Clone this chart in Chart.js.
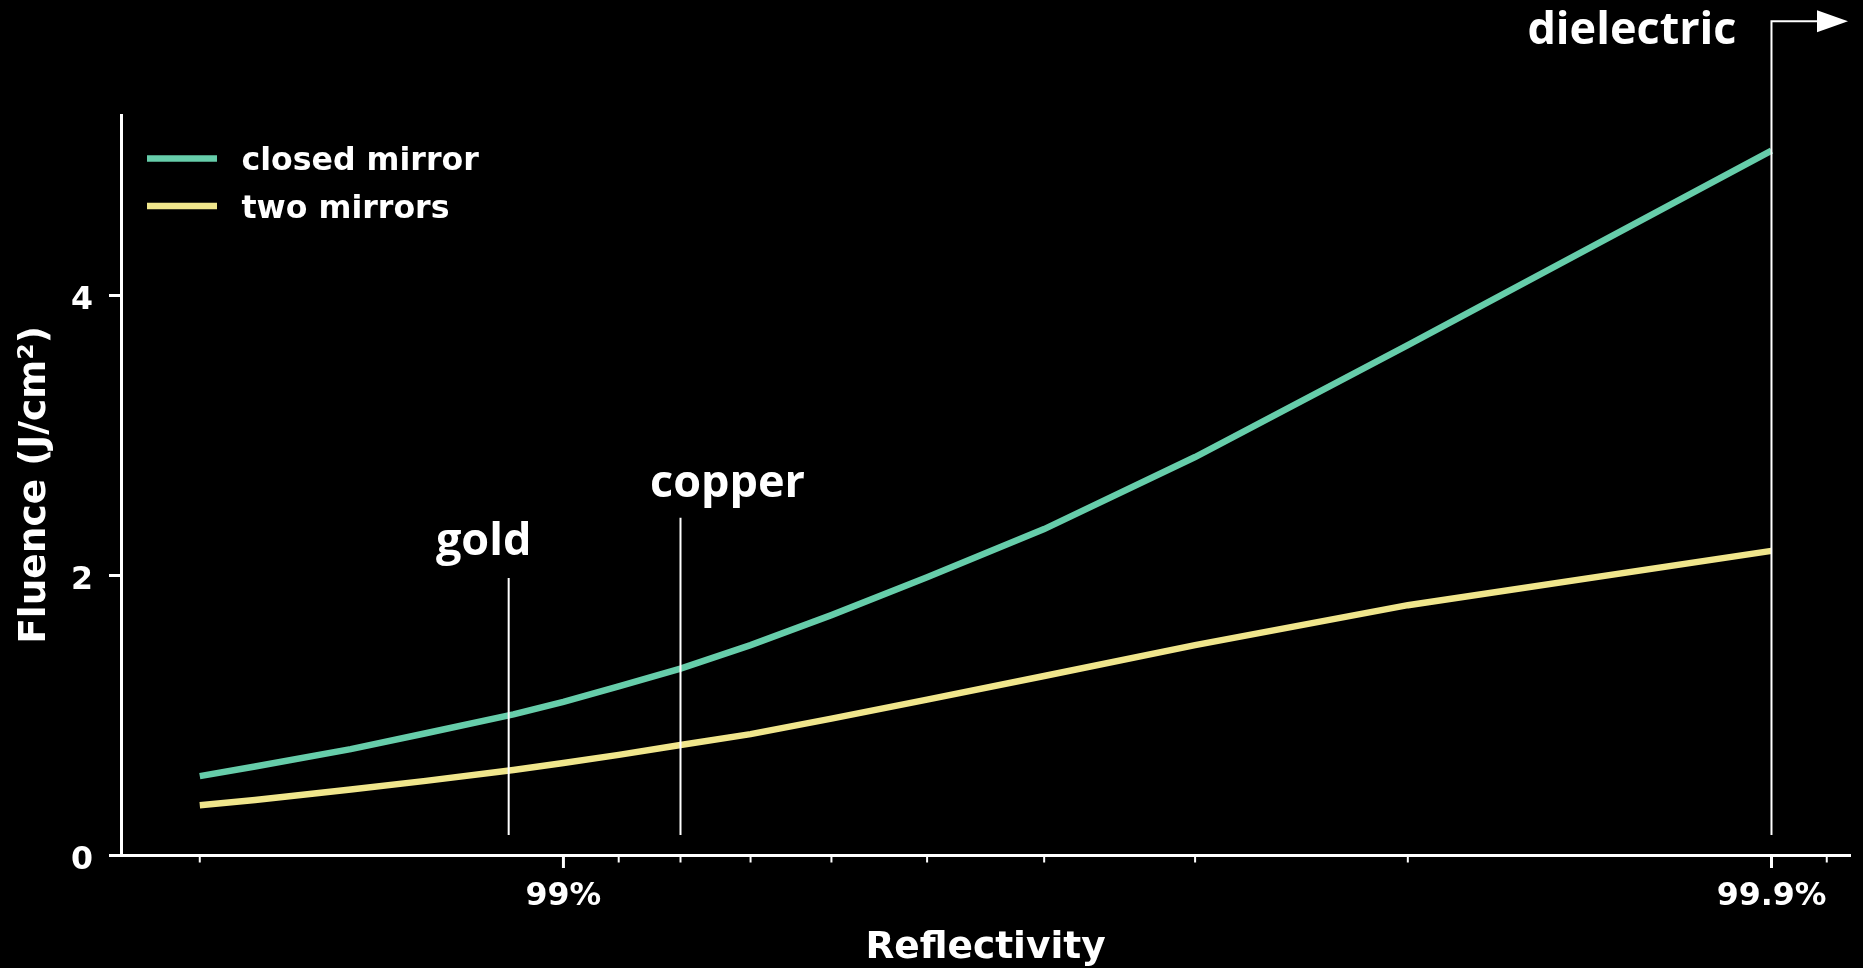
<!DOCTYPE html>
<html>
<head>
<meta charset="utf-8">
<script src="https://cdn.jsdelivr.net/npm/chart.js@4/dist/chart.umd.min.js"></script>
<style>
  html, body { margin: 0; padding: 0; background: #000; }
  #wrap { position: relative; width: 1863px; height: 968px; }
</style>
</head>
<body>
<div id="wrap"><canvas id="chart"></canvas></div>
<script>
// Mirror reflectivity (%) at which the fluence was evaluated
const reflectivity = [98.0, 98.2, 98.5, 98.7, 98.9, 99.0, 99.1, 99.2, 99.3, 99.4, 99.5, 99.6, 99.7, 99.8, 99.9];
// Fluence (J/cm²) for each configuration
const closedMirror = [0.564, 0.633, 0.757, 0.870, 1.005, 1.095, 1.205, 1.333, 1.500, 1.715, 1.985, 2.330, 2.845, 3.645, 5.036];
const twoMirrors   = [0.355, 0.393, 0.468, 0.530, 0.608, 0.657, 0.716, 0.786, 0.864, 0.975, 1.111, 1.280, 1.500, 1.786, 2.174];

// x axis tick marks (reflectivity %) and the ones that carry a label
const xTickReflectivity = [98, 99, 99.1, 99.2, 99.3, 99.4, 99.5, 99.6, 99.7, 99.8, 99.9, 99.91];
const xLabelReflectivity = [99, 99.9];
const xLabelText = ['99%', '99.9%'];
const yTicks = [0, 2, 4];

// Mirror materials marked on the plot
const markerNames = ['gold', 'copper', 'dielectric'];
const markerReflectivity = [98.89, 99.2, 99.9];
const markerTop = [1.98, 2.41, 5.96];
const markerBase = 0.143;

// the x axis is logarithmic in the loss (1 - R), drawn with high reflectivity on the right
const toLoss = r => (100 - r) / 100;
const series = vals => reflectivity.map((r, i) => ({ x: toLoss(r), y: vals[i] }));

const WHITE = '#ffffff';
const LINE_WIDTH = 6.5;
const tickFont = { family: 'DejaVu Sans', weight: 'bold', size: 31.6 };
const titleFont = { family: 'DejaVu Sans', weight: 'bold', size: 37.5, lineHeight: 1.0 };

// major / minor tick marks under the x axis
const xTickMarks = {
  id: 'xTickMarks',
  afterDraw(chart) {
    const sx = chart.scales.x, ctx = chart.ctx;
    const y0 = chart.chartArea.bottom;
    ctx.save();
    ctx.strokeStyle = WHITE;
    sx.ticks.forEach(t => {
      const major = xLabelReflectivity.some(r => Math.abs(toLoss(r) - t.value) < 1e-9);
      const px = sx.getPixelForValue(t.value);
      ctx.lineWidth = major ? 3 : 2;
      ctx.beginPath();
      ctx.moveTo(px, y0);
      ctx.lineTo(px, y0 + (major ? 13 : 7.5));
      ctx.stroke();
    });
    ctx.restore();
  }
};

// legend in the upper-left corner of the plot
const mirrorLegend = {
  id: 'mirrorLegend',
  afterDraw(chart) {
    const ctx = chart.ctx;
    ctx.save();
    chart.data.datasets.forEach((ds, i) => {
      const y = 158.5 + i * 47.5;
      ctx.strokeStyle = ds.borderColor;
      ctx.lineWidth = LINE_WIDTH;
      ctx.beginPath();
      ctx.moveTo(147, y);
      ctx.lineTo(217, y);
      ctx.stroke();
      ctx.fillStyle = WHITE;
      ctx.font = 'bold 31.6px "DejaVu Sans"';
      ctx.textAlign = 'left';
      ctx.textBaseline = 'alphabetic';
      ctx.fillText(ds.label, 241.5, y + 11.5);
    });
    ctx.restore();
  }
};

// vertical marker lines with material names
const materialMarkers = {
  id: 'materialMarkers',
  afterDatasetsDraw(chart) {
    const sx = chart.scales.x, sy = chart.scales.y, ctx = chart.ctx;
    ctx.save();
    ctx.strokeStyle = WHITE;
    ctx.fillStyle = WHITE;
    ctx.lineWidth = 2;
    ctx.font = 'bold 45px "Open Sans"';
    ctx.textBaseline = 'alphabetic';
    markerNames.forEach((name, i) => {
      const px = sx.getPixelForValue(toLoss(markerReflectivity[i]));
      const top = sy.getPixelForValue(markerTop[i]);
      const base = sy.getPixelForValue(markerBase);
      ctx.beginPath();
      ctx.moveTo(px, base);
      ctx.lineTo(px, top);
      if (name === 'dielectric') {
        // arrow pointing towards ever higher reflectivity
        const tip = chart.chartArea.right - 2;
        ctx.lineTo(tip - 30, top);
        ctx.stroke();
        ctx.beginPath();
        ctx.moveTo(tip, top);
        ctx.lineTo(tip - 31, top - 11);
        ctx.lineTo(tip - 31, top + 11);
        ctx.closePath();
        ctx.fill();
        ctx.textAlign = 'right';
        ctx.fillText(name, px - 35, top + 23);
      } else {
        ctx.stroke();
        ctx.textAlign = 'center';
        if (name === 'gold') ctx.fillText(name, px - 25, top - 23);
        else ctx.fillText(name, px + 47, top - 21);
      }
    });
    ctx.restore();
  }
};

new Chart(document.getElementById('chart'), {
  type: 'line',
  data: {
    datasets: [
      { label: 'closed mirror', data: series(closedMirror), borderColor: '#66cdaa',
        borderWidth: LINE_WIDTH, pointRadius: 0, tension: 0, borderCapStyle: 'butt' },
      { label: 'two mirrors', data: series(twoMirrors), borderColor: '#f0e68c',
        borderWidth: LINE_WIDTH, pointRadius: 0, tension: 0, borderCapStyle: 'butt' }
    ]
  },
  options: {
    responsive: true,
    maintainAspectRatio: false,
    animation: false,
    events: [],
    layout: { padding: { top: 115, right: 13, left: 0, bottom: 0 } },
    plugins: { legend: { display: false }, tooltip: { enabled: false } },
    scales: {
      x: {
        type: 'logarithmic',
        reverse: true,
        bounds: 'data',
        min: toLoss(99.9139),
        max: toLoss(97.676),
        afterBuildTicks: s => { s.ticks = xTickReflectivity.map(r => ({ value: toLoss(r) })); },
        ticks: {
          autoSkip: false, maxRotation: 0, minRotation: 0, padding: 23,
          color: WHITE, font: tickFont,
          callback: v => {
            const i = xLabelReflectivity.findIndex(r => Math.abs(toLoss(r) - v) < 1e-9);
            return i >= 0 ? xLabelText[i] : '';
          }
        },
        grid: { display: false, drawTicks: false },
        border: { display: true, color: WHITE, width: 3 },
        title: { display: true, text: 'Reflectivity', color: WHITE, font: titleFont,
                 padding: { top: 0, bottom: 1 } },
        afterFit: s => { s.height = 113; }
      },
      y: {
        type: 'linear',
        min: 0,
        max: 5.29,
        afterBuildTicks: s => { s.ticks = yTicks.map(v => ({ value: v })); },
        ticks: { color: WHITE, font: tickFont, padding: 16, labelOffset: 5.5 },
        grid: { drawOnChartArea: false, drawTicks: true, tickLength: 12,
                tickWidth: 3, tickColor: WHITE },
        border: { display: true, color: WHITE, width: 3 },
        title: { display: true, text: 'Fluence (J/cm²)', color: WHITE, font: titleFont,
                 padding: { top: 17, bottom: 0 } },
        afterFit: s => { s.width = 121; }
      }
    }
  },
  plugins: [xTickMarks, mirrorLegend, materialMarkers]
});
</script>
</body>
</html>
